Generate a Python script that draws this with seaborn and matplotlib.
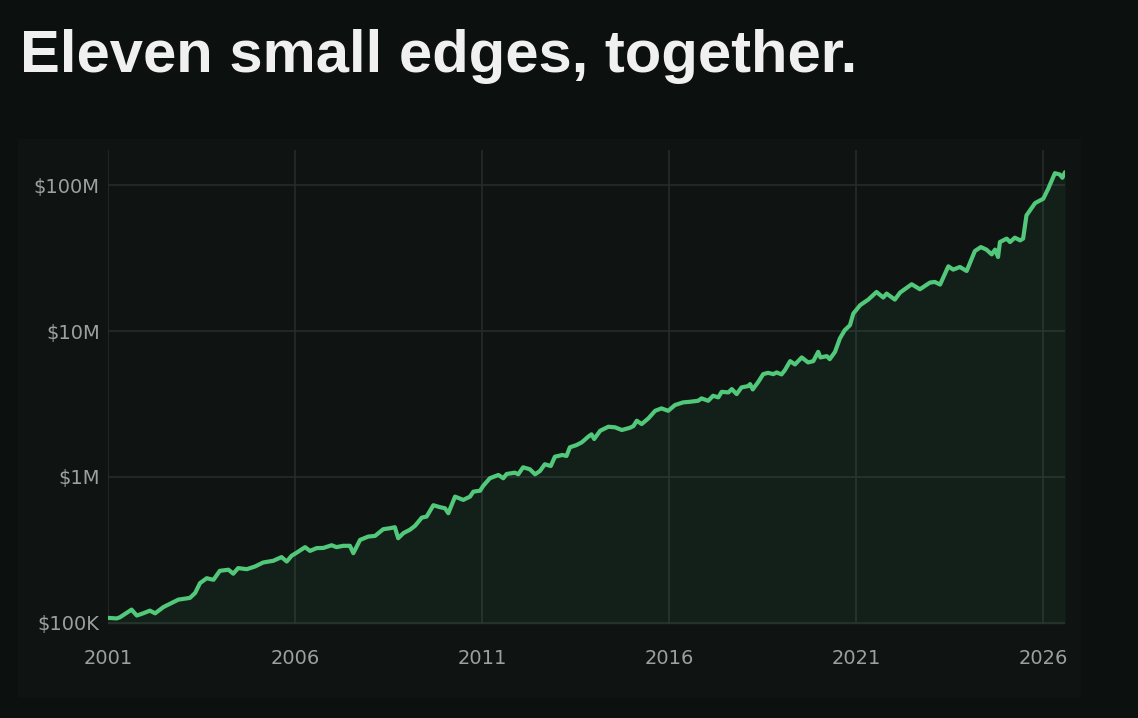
import matplotlib
matplotlib.use("Agg")
import matplotlib.pyplot as plt
import matplotlib.ticker as mticker
from matplotlib.patches import Rectangle
import numpy as np
import pandas as pd
import seaborn as sns

# -----------------------------------------------------------
# data (year, portfolio value in $K)
# -----------------------------------------------------------
years = [2001.00, 2001.23, 2001.32, 2001.63, 2001.77, 2001.94, 2002.12, 2002.26, 2002.48, 2002.88,
         2003.19, 2003.33, 2003.46, 2003.64, 2003.82, 2003.99, 2004.22, 2004.35, 2004.48, 2004.71,
         2004.93, 2005.15, 2005.42, 2005.64, 2005.78, 2005.91, 2006.05, 2006.27, 2006.40, 2006.58,
         2006.76, 2006.98, 2007.11, 2007.29, 2007.47, 2007.56, 2007.74, 2007.96, 2008.14, 2008.36,
         2008.54, 2008.67, 2008.76, 2008.90, 2009.07, 2009.21, 2009.39, 2009.52, 2009.70, 2009.88,
         2010.01, 2010.10, 2010.28, 2010.50, 2010.68, 2010.77, 2010.95, 2011.03, 2011.21, 2011.44,
         2011.57, 2011.66, 2011.88, 2011.97, 2012.10, 2012.28, 2012.42, 2012.55, 2012.68, 2012.84,
         2012.95, 2013.15, 2013.26, 2013.35, 2013.53, 2013.67, 2013.84, 2013.93, 2014.00, 2014.16,
         2014.38, 2014.56, 2014.74, 2014.96, 2015.05, 2015.14, 2015.27, 2015.45, 2015.63, 2015.80,
         2015.98, 2016.16, 2016.38, 2016.56, 2016.78, 2016.87, 2017.05, 2017.18, 2017.32, 2017.41,
         2017.59, 2017.68, 2017.81, 2017.94, 2018.12, 2018.17, 2018.24, 2018.39, 2018.52, 2018.65,
         2018.79, 2018.88, 2019.01, 2019.10, 2019.24, 2019.37, 2019.55, 2019.72, 2019.86, 2019.99,
         2020.05, 2020.22, 2020.30, 2020.44, 2020.57, 2020.70, 2020.84, 2020.93, 2021.11, 2021.33,
         2021.55, 2021.73, 2021.82, 2022.04, 2022.18, 2022.49, 2022.71, 2022.98, 2023.11, 2023.25,
         2023.47, 2023.60, 2023.78, 2023.96, 2024.18, 2024.34, 2024.49, 2024.63, 2024.72, 2024.80,
         2024.85, 2025.03, 2025.12, 2025.25, 2025.39, 2025.47, 2025.56, 2025.79, 2026.01, 2026.14,
         2026.32, 2026.45, 2026.52, 2026.59]

value_k = [108, 107, 109, 123, 112, 116, 121, 116, 128, 144,
           148, 160, 187, 202, 197, 227, 231, 217, 237, 233,
           243, 259, 266, 282, 263, 288, 303, 330, 311, 325,
           326, 340, 330, 337, 337, 300, 370, 390, 394, 438,
           445, 452, 380, 412, 434, 462, 526, 535, 640, 620,
           610, 564, 733, 696, 733, 793, 805, 867, 980, 1032,
           980, 1048, 1070, 1043, 1165, 1129, 1043, 1099, 1222, 1189,
           1377, 1415, 1393, 1597, 1656, 1729, 1888, 1961, 1820, 2075,
           2211, 2190, 2099, 2176, 2235, 2430, 2307, 2523, 2844, 2954,
           2844, 3113, 3248, 3279, 3331, 3460, 3331, 3605, 3515, 3838,
           3802, 4006, 3703, 4116, 4201, 4336, 3987, 4496, 5076, 5181,
           5076, 5212, 5052, 5407, 6232, 5916, 6606, 6106, 6232, 7215,
           6606, 6743, 6430, 7215, 8913, 10160, 10990, 13210, 15070, 16480,
           18580, 17020, 18110, 16480, 18410, 20990, 19400, 21560, 21770, 20890,
           27860, 26460, 27570, 25880, 35480, 37760, 36270, 33650, 36270, 32280,
           40890, 43150, 40890, 43830, 41980, 43150, 62320, 75650, 81090, 94840,
           121300, 118900, 112900, 123300]

year_ticks = [2001, 2006, 2011, 2016, 2021, 2026]
value_ticks = [1e5, 1e6, 1e7, 1e8]
value_tick_labels = ["$100K", "$1M", "$10M", "$100M"]

df = pd.DataFrame({"year": years, "value": np.array(value_k) * 1000.0})

# colours
FIG_BG = "#0c100f"
PANEL_BG = "#0f1412"
GRID = "#262d2a"
LINE = "#52c87a"
TICK_TXT = "#9aa19e"
TITLE_TXT = "#f0f0f0"

sns.set_theme(style="dark", rc={
    "figure.facecolor": FIG_BG,
    "axes.facecolor": PANEL_BG,
    "axes.edgecolor": PANEL_BG,
    "grid.color": GRID,
})
plt.rcParams["font.family"] = ["DejaVu Sans"]

fig = plt.figure(figsize=(11.38, 7.18), dpi=100)
fig.patch.set_facecolor(FIG_BG)

# card behind the chart
fig.patches.append(Rectangle((18 / 1138, 1 - 698 / 718), (1081 - 18) / 1138, (698 - 139) / 718,
                             transform=fig.transFigure, facecolor=PANEL_BG, edgecolor="none", zorder=-5))

ax = fig.add_axes([108 / 1138, 1 - 624 / 718, (1065 - 108) / 1138, (624 - 150) / 718])
ax.set_facecolor(PANEL_BG)

ax.set_yscale("log")
ax.set_ylim(98e3, 175e6)
ax.set_xlim(df["year"].min(), df["year"].max())

ax.fill_between(df["year"], df["value"], 98e3, color=LINE, alpha=0.07, linewidth=0, zorder=1)
sns.lineplot(data=df, x="year", y="value", ax=ax, color=LINE, linewidth=3.0,
             solid_joinstyle="round", solid_capstyle="round", zorder=3)

ax.set_xticks(year_ticks)
ax.set_xticklabels([str(y) for y in year_ticks])
ax.set_yticks(value_ticks)
ax.set_yticklabels(value_tick_labels)
ax.yaxis.set_minor_locator(mticker.NullLocator())

ax.grid(True, which="major", color=GRID, linewidth=1.1, zorder=0)
ax.set_axisbelow(True)
ax.tick_params(axis="x", length=13, width=1.1, color=GRID, pad=5, labelsize=14, labelcolor=TICK_TXT)
ax.tick_params(axis="y", length=0, pad=6, labelsize=14, labelcolor=TICK_TXT)
ax.set_xlabel("")
ax.set_ylabel("")
for s in ax.spines.values():
    s.set_visible(False)

fig.text(20 / 1138, 1 - 72 / 718, "Eleven small edges, together.", color=TITLE_TXT,
         fontsize=43, fontweight="bold", family=["Liberation Sans", "DejaVu Sans"],
         ha="left", va="baseline")

fig.savefig("out.png", dpi=100, facecolor=FIG_BG)
